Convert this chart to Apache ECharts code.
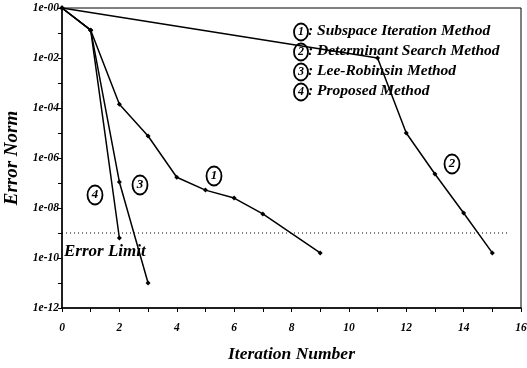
<!DOCTYPE html>
<html><head><meta charset="utf-8">
<script src="https://cdn.jsdelivr.net/npm/echarts@6/dist/echarts.min.js"></script>
<style>html,body{margin:0;padding:0;background:#fff}#c{width:527px;height:368px}</style>
</head><body><div id="c"></div>
<script>
var subspace = [[0,1],[1,1.3e-1],[2,1.4e-4],[3,7.6e-6],[4,1.7e-7],[5,5.2e-8],[6,2.5e-8],[7,5.8e-9],[9,1.6e-10]];
var determinant = [[0,1],[11,1e-2],[12,1e-5],[13,2.3e-7],[14,6.3e-9],[15,1.6e-10]];
var leeRobinson = [[0,1],[1,1.3e-1],[2,1.1e-7],[3,1e-11]];
var proposed = [[0,1],[1,1.3e-1],[2,6.3e-10]];
var errorLimit = [[0,1e-9],[15.6,1e-9]];
var legendNums = ['1','2','3','4'];
var legendLines = [': Subspace Iteration Method',': Determinant Search Method',': Lee-Robinsin Method',': Proposed Method'];

var serif = '"Liberation Serif","DejaVu Serif",serif';
function ser(d){return {type:'line',data:d,symbol:'diamond',symbolSize:5,showSymbol:true,
  lineStyle:{color:'#000',width:1.5},itemStyle:{color:'#000'},z:3};}
function circ(num,cx,cy,rx,ry,fs,fill){
  return [{type:'ellipse',shape:{cx:cx,cy:cy,rx:rx,ry:ry},style:{fill:fill,stroke:'#000',lineWidth:1.8},z:10},
    {type:'text',x:cx,y:cy,style:{text:num,font:'bold italic '+fs+'px '+serif,fill:'#000',align:'center',verticalAlign:'middle'},z:11}];
}
var chart = echarts.init(document.getElementById('c'));
var g = [];
legendLines.forEach(function(t,i){
  var cy = 32+i*20;
  g = g.concat(circ(legendNums[i],301,cy,7,8.5,12,'none'));
  g.push({type:'text',left:308,top:cy-9,style:{text:t,font:'bold italic 15.5px '+serif,fill:'#000'},z:11});
});
g.push({type:'text',left:64,top:243,style:{text:'Error Limit',font:'bold italic 17px '+serif,fill:'#000'},z:11});
[['1',214,176],['2',452,164],['3',140,185],['4',95,195]].forEach(function(a){
  g = g.concat(circ(a[0],a[1],a[2],7.5,9.5,13,'#fff'));
});
chart.setOption({
  animation:false,
  grid:{left:62,top:8,right:6,bottom:60,containLabel:false,outerBoundsMode:'none'},
  xAxis:{type:'value',min:0,max:16,interval:1,
    name:'Iteration Number',nameLocation:'middle',nameGap:37,
    nameTextStyle:{color:'#000',fontFamily:serif,fontSize:17.5,fontWeight:'bold',fontStyle:'italic'},
    axisLine:{lineStyle:{color:'#000',width:1.5}},
    axisTick:{length:4,lineStyle:{color:'#000'}},
    axisLabel:{color:'#000',fontFamily:serif,fontSize:11.5,fontWeight:'bold',fontStyle:'italic',margin:14,
      formatter:function(v){return v%2===0?String(v):'';}},
    splitLine:{show:false}},
  yAxis:{type:'log',logBase:10,min:1e-12,max:1,interval:1,
    name:'Error Norm',nameLocation:'middle',nameGap:38,
    nameTextStyle:{color:'#000',fontFamily:serif,fontSize:19,fontWeight:'bold',fontStyle:'italic'},
    axisLine:{lineStyle:{color:'#000',width:1.5}},
    axisTick:{length:4,lineStyle:{color:'#000'}},
    axisLabel:{color:'#000',fontFamily:serif,fontSize:11.5,fontWeight:'bold',fontStyle:'italic',margin:3,
      formatter:function(v){var e=Math.round(-Math.log10(v));if(e%2!==0)return '';return '1e-'+(e<10?'0':'')+e;}},
    splitLine:{show:false}},
  graphic:g.concat([{type:'rect',shape:{x:62,y:8,width:459,height:300},style:{fill:'none',stroke:'#000',lineWidth:1},silent:true}]),
  series:[ser(subspace),ser(determinant),ser(leeRobinson),ser(proposed),
    {type:'line',data:errorLimit,symbol:'none',lineStyle:{color:'#000',width:1,type:[1,3]},z:2}]
});
</script></body></html>
